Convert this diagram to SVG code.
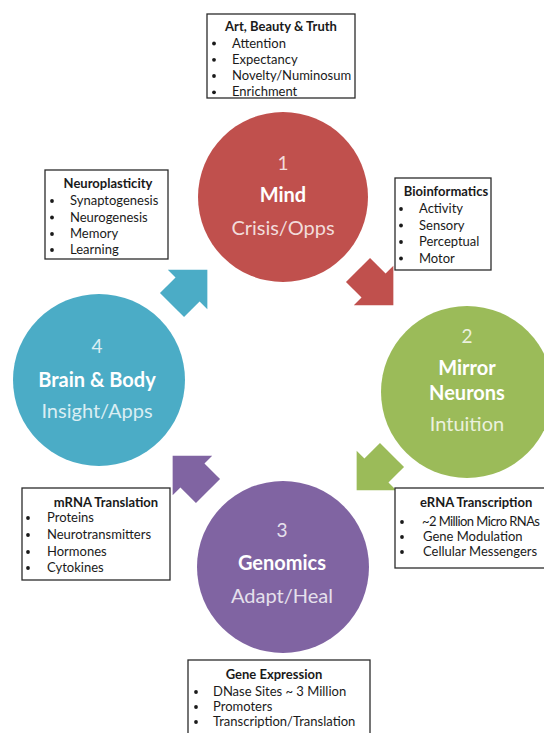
<svg xmlns="http://www.w3.org/2000/svg" width="544" height="733" viewBox="0 0 544 733">
<style>
.bg{fill:#ffffff}
.box{fill:#ffffff;stroke:#2b2b2b;stroke-width:1.3}
.bt{font-family:Lato,"Open Sans",sans-serif;font-size:13px;font-weight:bold;fill:#1a1a1a;text-anchor:middle}
.it{font-family:Lato,"Open Sans",sans-serif;font-size:13px;fill:#1a1a1a}
.dot{fill:#1a1a1a}
.num{font-family:Lato,"Open Sans",sans-serif;font-size:19px;text-anchor:middle}
.ttl{font-family:Lato,"Open Sans",sans-serif;font-size:20px;font-weight:bold;fill:#ffffff;text-anchor:middle}
.sub{font-family:Lato,"Open Sans",sans-serif;font-size:20px;text-anchor:middle}
.red{fill:#C0504D}.grn{fill:#9BBB59}.pur{fill:#8064A2}.blu{fill:#4BACC6}
.tred{fill:#F2DCDB}.tgrn{fill:#EBF1DE}.tpur{fill:#E5E0EC}.tblu{fill:#DAEEF3}
</style>
<defs>
<path id="arr" d="M0,-17 L22,-17 L22,-28 L50,0 L22,28 L22,17 L0,17 Z"/>
<circle id="b" r="1.9"/>
</defs>
<rect class="bg" x="0" y="0" width="544" height="733"/>

<g id="connectors">
<use href="#arr" class="red" transform="translate(358,270) rotate(45)"/>
<use href="#arr" class="grn" transform="translate(392,455) rotate(135)"/>
<use href="#arr" class="pur" transform="translate(208,491) rotate(225)"/>
<use href="#arr" class="blu" transform="translate(172,305) rotate(-45)"/>
</g>

<g id="node-mind">
<circle class="red" cx="283" cy="197" r="85"/>
<text class="num tred" x="283" y="170">1</text>
<text class="ttl" x="283" y="202">Mind</text>
<text class="sub tred" x="283" y="235">Crisis/Opps</text>
</g>

<g id="node-mirror">
<circle class="grn" cx="467" cy="392" r="86"/>
<text class="num tgrn" x="467" y="343">2</text>
<text class="ttl" x="467" y="375">Mirror</text>
<text class="ttl" x="467" y="400">Neurons</text>
<text class="sub tgrn" x="467" y="431">Intuition</text>
</g>

<g id="node-genomics">
<circle class="pur" cx="283" cy="567" r="86"/>
<text class="num tpur" x="282" y="537">3</text>
<text class="ttl" x="282" y="570">Genomics</text>
<text class="sub tpur" x="282" y="603">Adapt/Heal</text>
</g>

<g id="node-brain">
<circle class="blu" cx="99" cy="380" r="86"/>
<text class="num tblu" x="97" y="353">4</text>
<text class="ttl" x="97" y="387">Brain &amp; Body</text>
<text class="sub tblu" x="97" y="418">Insight/Apps</text>
</g>

<g id="box-art">
<rect class="box" x="207" y="14" width="148" height="84"/>
<text class="bt" x="281" y="31">Art, Beauty &amp; Truth</text>
<use href="#b" class="dot" x="214" y="43.5"/>
<use href="#b" class="dot" x="214" y="59.8"/>
<use href="#b" class="dot" x="214" y="76"/>
<use href="#b" class="dot" x="214" y="92.3"/>
<text class="it" x="232" y="47.5">Attention</text>
<text class="it" x="232" y="63.8">Expectancy</text>
<text class="it" x="232" y="80">Novelty/Numinosum</text>
<text class="it" x="232" y="96.3">Enrichment</text>
</g>

<g id="box-bioinformatics">
<rect class="box" x="395" y="178" width="96" height="92"/>
<text class="bt" x="446" y="196">Bioinformatics</text>
<use href="#b" class="dot" x="401" y="209"/>
<use href="#b" class="dot" x="401" y="225.5"/>
<use href="#b" class="dot" x="401" y="242"/>
<use href="#b" class="dot" x="401" y="258.5"/>
<text class="it" x="419" y="213">Activity</text>
<text class="it" x="419" y="229.5">Sensory</text>
<text class="it" x="419" y="246">Perceptual</text>
<text class="it" x="419" y="262.5">Motor</text>
</g>

<g id="box-neuroplasticity">
<rect class="box" x="45" y="170" width="123" height="89"/>
<text class="bt" x="108" y="188">Neuroplasticity</text>
<use href="#b" class="dot" x="52" y="201"/>
<use href="#b" class="dot" x="52" y="217.5"/>
<use href="#b" class="dot" x="52" y="234"/>
<use href="#b" class="dot" x="52" y="250"/>
<text class="it" x="70" y="205">Synaptogenesis</text>
<text class="it" x="70" y="221.5">Neurogenesis</text>
<text class="it" x="70" y="238">Memory</text>
<text class="it" x="70" y="254">Learning</text>
</g>

<g id="box-mrna">
<rect class="box" x="22" y="488" width="148" height="92"/>
<text class="bt" x="106" y="507">mRNA Translation</text>
<use href="#b" class="dot" x="28" y="518"/>
<use href="#b" class="dot" x="28" y="535"/>
<use href="#b" class="dot" x="28" y="552"/>
<use href="#b" class="dot" x="28" y="568"/>
<text class="it" x="47" y="522">Proteins</text>
<text class="it" x="47" y="539">Neurotransmitters</text>
<text class="it" x="47" y="556">Hormones</text>
<text class="it" x="47" y="572">Cytokines</text>
</g>

<g id="box-erna">
<rect class="box" x="395" y="488" width="170" height="80"/>
<text class="it" x="420" y="507" font-weight="bold">eRNA Transcription</text>
<use href="#b" class="dot" x="402" y="522"/>
<use href="#b" class="dot" x="402" y="537"/>
<use href="#b" class="dot" x="402" y="552"/>
<text class="it" x="422" y="526" font-size="11" textLength="118" lengthAdjust="spacing">~2 Million Micro RNAs</text>
<text class="it" x="423" y="541">Gene Modulation</text>
<text class="it" x="423" y="556">Cellular Messengers</text>
</g>

<g id="box-gene">
<rect class="box" x="188" y="660" width="182" height="90"/>
<text class="bt" x="274" y="679">Gene Expression</text>
<use href="#b" class="dot" x="196" y="692"/>
<use href="#b" class="dot" x="196" y="707"/>
<use href="#b" class="dot" x="196" y="722"/>
<text class="it" x="213" y="696">DNase Sites ~ 3 Million</text>
<text class="it" x="213" y="711">Promoters</text>
<text class="it" x="213" y="726">Transcription/Translation</text>
</g>
</svg>
